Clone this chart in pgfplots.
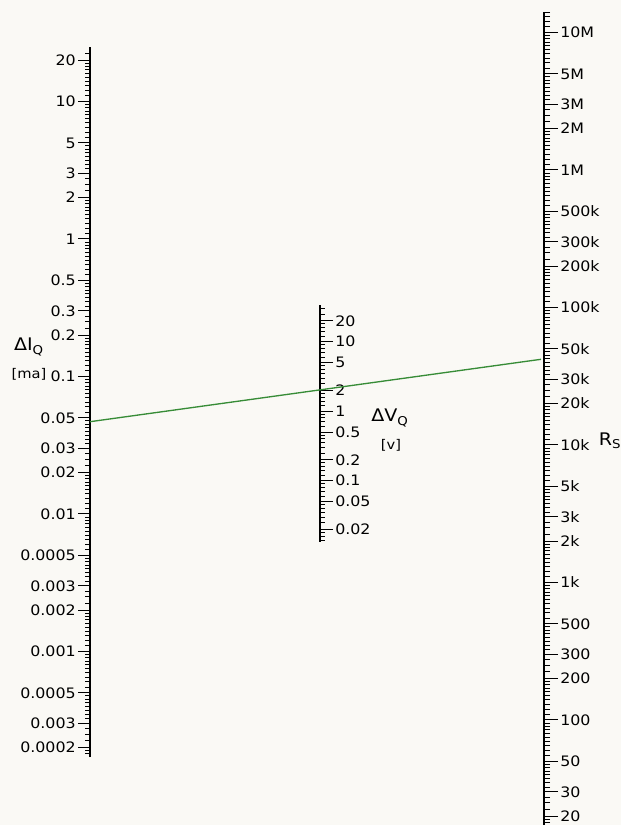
\documentclass[border=0pt]{standalone}
\usepackage{pgfplots}
\pgfplotsset{compat=1.18}
\usepackage{fontspec}
\setmainfont{DejaVu Sans}[FakeStretch=1.1]
\definecolor{nomogreen}{RGB}{55,140,55}
\definecolor{paper}{RGB}{250,249,245}

\def\mantA{1,1.1,1.2,1.3,1.4,1.5,1.6,1.7,1.8,1.9,2,2.25,2.5,2.75,3,3.25,3.5,3.75,4,4.25,4.5,4.75,5,5.5,6,6.5,7,7.5,8,8.5,9,9.5}
\def\mantB{1,1.2,1.4,1.6,1.8,2,2.5,3,3.5,4,4.5,5,6,7,8,9}
\def\leftminor{1}
\foreach \e in {-4,...,1}{\foreach \m in \mantA{\xdef\leftminor{\leftminor,\m e\e}}}
\def\rightminor{10}
\foreach \e in {1,...,7}{\foreach \m in \mantA{\xdef\rightminor{\rightminor,\m e\e}}}
\def\midminor{1}
\foreach \e in {-2,...,1}{\foreach \m in \mantB{\xdef\midminor{\midminor,\m e\e}}}

\pgfplotsset{nomoaxis/.style={
  scale only axis, width=20pt, xmin=0, xmax=1,
  axis x line=none,
  axis line style={-, line width=1.6pt, black},
  major tick length=9pt, minor tick length=3.5pt,
  tick style={black, line width=0.75pt},
  tick label style={font=\fontsize{10.8}{12}\selectfont, inner sep=1.5pt},
}}

\begin{document}
\begin{tikzpicture}[x=1pt,y=1pt]
\fill[paper] (0,0) rectangle (465.75,618.75);
\useasboundingbox (0,0) rectangle (465.75,618.75);

% Delta I_Q scale (left)
\begin{axis}[ymode=log, nomoaxis, at={(67.5pt,51pt)}, anchor=south west,
  height=532.5pt, ymin=1.7086e-4, ymax=24.91,
  axis y line*=left, ytick align=outside, ytick pos=left,
  ytick={20,10,5,3,2,1,0.5,0.3,0.2,0.1,0.05,0.03,0.02,0.01,0.005,0.003,0.002,0.001,0.0005,0.0003,0.0002},
  yticklabels={20,10,5,3,2,1,0.5,0.3,0.2,0.1,0.05,0.03,0.02,0.01,0.0005,0.003,0.002,0.001,0.0005,0.003,0.0002},
  minor ytick/.expand once=\leftminor]
\end{axis}

% Delta V_Q scale (middle)
\begin{axis}[ymode=log, nomoaxis, at={(240pt,212.25pt)}, anchor=south east,
  height=177.75pt, ymin=0.01312, ymax=33.74,
  axis y line*=right, ytick align=outside, ytick pos=right,
  ytick={20,10,5,2,1,0.5,0.2,0.1,0.05,0.02},
  yticklabels={20,10,5,2,1,0.5,0.2,0.1,0.05,0.02},
  minor ytick/.expand once=\midminor, major tick length=9.75pt, minor tick length=3.5pt]
\end{axis}

% R_S scale (right)
\begin{axis}[ymode=log, nomoaxis, at={(408pt,0pt)}, anchor=south east,
  height=609.75pt, ymin=17.23, ymax=1.4095e7,
  axis y line*=right, ytick align=outside, ytick pos=right,
  ytick={1e7,5e6,3e6,2e6,1e6,5e5,3e5,2e5,1e5,5e4,3e4,2e4,1e4,5e3,3e3,2e3,1e3,500,300,200,100,50,30,20},
  yticklabels={10M,5M,3M,2M,1M,500k,300k,200k,100k,50k,30k,20k,10k,5k,3k,2k,1k,500,300,200,100,50,30,20},
  minor ytick/.expand once=\rightminor, major tick length=10.5pt, minor tick length=4.5pt]
\end{axis}

% overlay in picture pixels: isopleth and scale names
\begin{axis}[at={(0pt,0pt)}, anchor=south west, scale only axis,
  width=465.75pt, height=618.75pt, xmin=0, xmax=621, ymin=0, ymax=825,
  y dir=reverse, hide axis, clip=false]
\addplot[nomogreen, line width=1pt] coordinates {(90,421.7) (541,359.3)};
\node[font=\fontsize{13}{15}\selectfont] at (axis cs:29,347) {ΔI\textsubscript{Q}};
\node[font=\fontsize{10}{12}\selectfont] at (axis cs:29,374) {[ma]};
\node[font=\fontsize{13}{15}\selectfont] at (axis cs:390,418) {ΔV\textsubscript{Q}};
\node[font=\fontsize{10}{12}\selectfont] at (axis cs:391,445) {[v]};
\node[font=\fontsize{13}{15}\selectfont] at (axis cs:610,441) {R\textsubscript{S}};
\end{axis}
\end{tikzpicture}
\end{document}
